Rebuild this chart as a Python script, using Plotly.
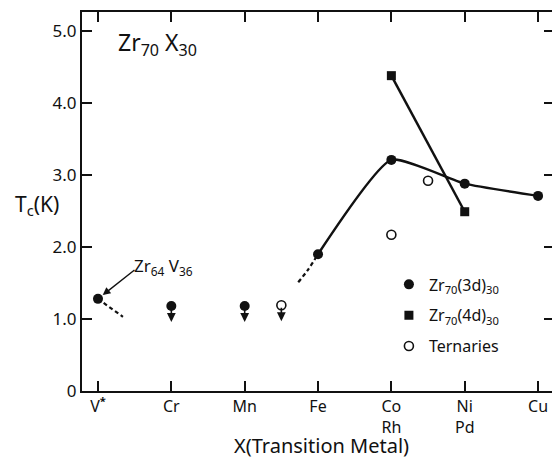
import plotly.graph_objects as go

# ---- data ----
categories = ["V<sup><b>*</b></sup>", "Cr", "Mn", "Fe", "Co<br>Rh", "Ni<br>Pd", "Cu"]
cat_pos = [0, 1, 2, 3, 4, 5, 6]

d3_x = [0, 1, 2, 3, 4, 5, 6]
d3_y = [1.28, 1.18, 1.18, 1.90, 3.21, 2.88, 2.71]
d3_upper_limit = [False, True, True, False, False, False, False]

d3_curve_x = [3, 4, 5, 6]
d3_curve_y = [1.90, 3.21, 2.88, 2.71]

d4_x = [4, 5]
d4_y = [4.38, 2.49]

tern_x = [2.5, 4.5, 4.0]
tern_y = [1.19, 2.92, 2.17]
tern_upper_limit = [True, False, False]

v_dash_x = [0, 0.34]
v_dash_y = [1.28, 1.03]
fe_dash_x = [2.73, 2.86, 3.0]
fe_dash_y = [1.51, 1.68, 1.90]

y_ticks = [0, 1, 2, 3, 4, 5]
y_ticktext = ["0", "1.0", "2.0", "3.0", "4.0", "5.0"]

FONT = "Noto Sans"
BLACK = "#111111"

fig = go.Figure()

# dashed extrapolations
fig.add_trace(go.Scatter(x=v_dash_x, y=v_dash_y, mode="lines",
                         line=dict(color=BLACK, width=2.2, dash="4px,3px"),
                         showlegend=False, hoverinfo="skip"))
fig.add_trace(go.Scatter(x=fe_dash_x, y=fe_dash_y, mode="lines",
                         line=dict(color=BLACK, width=2.2, dash="4px,3px", shape="spline"),
                         showlegend=False, hoverinfo="skip"))
# solid curves
fig.add_trace(go.Scatter(x=d3_curve_x, y=d3_curve_y, mode="lines",
                         line=dict(color=BLACK, width=2.5, shape="spline", smoothing=0.5),
                         showlegend=False, hoverinfo="skip"))
fig.add_trace(go.Scatter(x=d4_x, y=d4_y, mode="lines",
                         line=dict(color=BLACK, width=2.5),
                         showlegend=False, hoverinfo="skip"))

# markers
fig.add_trace(go.Scatter(x=d3_x, y=d3_y, mode="markers", legendgroup="a",
                         marker=dict(symbol="circle", size=10, color=BLACK),
                         name="Zr<sub>70</sub>(3d)<sub>30</sub>"))
fig.add_trace(go.Scatter(x=d4_x, y=d4_y, mode="markers", legendgroup="b",
                         marker=dict(symbol="square", size=9, color=BLACK),
                         name="Zr<sub>70</sub>(4d)<sub>30</sub>"))
fig.add_trace(go.Scatter(x=tern_x, y=tern_y, mode="markers", legendgroup="c",
                         marker=dict(symbol="circle-open", size=9, color=BLACK,
                                     line=dict(width=1.6, color=BLACK)),
                         name="Ternaries"))

# invisible trace for right-side ticks
fig.add_trace(go.Scatter(x=[None], y=[None], yaxis="y2", showlegend=False, hoverinfo="skip"))

annotations = []
# upper-limit arrows
for xs, ys, flags in [(d3_x, d3_y, d3_upper_limit), (tern_x, tern_y, tern_upper_limit)]:
    for x, y, f in zip(xs, ys, flags):
        if f:
            annotations.append(dict(x=x, y=y - 0.22, xref="x", yref="y", text="",
                                    showarrow=True, ax=0, ay=-15, arrowhead=2,
                                    arrowsize=1.1, arrowwidth=1.6, arrowcolor=BLACK))

# Zr64V36 label and arrow
annotations.append(dict(x=d3_x[0], y=d3_y[0], xref="x", yref="y", text="",
                        showarrow=True, ax=38, ay=-30, arrowhead=2, arrowsize=1.1,
                        arrowwidth=1.4, arrowcolor=BLACK, standoff=6))
annotations.append(dict(x=d3_x[0], y=d3_y[0], xref="x", yref="y",
                        text="Zr<sub>64</sub> V<sub>36</sub>", showarrow=False,
                        xshift=66, yshift=32, font=dict(size=17, color=BLACK, family=FONT)))

# title inside plot
annotations.append(dict(x=0.073, y=0.918, xref="paper", yref="paper", xanchor="left",
                        yanchor="middle", text="Zr<sub>70</sub> X<sub>30</sub>",
                        showarrow=False, font=dict(size=23, color=BLACK, family=FONT)))
# y-axis title
annotations.append(dict(x=-0.096, y=0.49, xref="paper", yref="paper", xanchor="center",
                        yanchor="middle", text="T<sub>c</sub>(K)", showarrow=False,
                        font=dict(size=21, color=BLACK, family=FONT)))
# x-axis title
annotations.append(dict(x=0.509, y=-0.181, xref="paper", yref="paper", xanchor="center",
                        yanchor="bottom", text="X(Transition Metal)", showarrow=False,
                        borderpad=0,
                        font=dict(size=20, color=BLACK, family=FONT)))

fig.update_layout(
    width=552, height=460,
    margin=dict(l=82, r=0, t=12, b=69),
    paper_bgcolor="white", plot_bgcolor="white",
    font=dict(family=FONT, color=BLACK, size=16),
    xaxis=dict(range=[-0.218, 6.19], tickmode="array", tickvals=cat_pos, ticktext=categories,
               showgrid=False, zeroline=False, showline=True, linecolor=BLACK, linewidth=2,
               mirror="ticks", ticks="inside", ticklen=10, tickwidth=2, tickcolor=BLACK,
               automargin=False,
               tickfont=dict(size=16, family=FONT, color=BLACK)),
    yaxis=dict(range=[0, 5.264], tickmode="array", tickvals=y_ticks, ticktext=y_ticktext,
               showgrid=False, zeroline=False, showline=True, linecolor=BLACK, linewidth=2,
               ticks="inside", ticklen=10, tickwidth=2, tickcolor=BLACK, automargin=False,
               tickfont=dict(size=17, family=FONT, color=BLACK)),
    yaxis2=dict(range=[0, 5.264], overlaying="y", side="right", tickmode="array",
                tickvals=y_ticks, showticklabels=False, showgrid=False, zeroline=False,
                showline=False, ticks="inside", ticklen=8, tickwidth=2, tickcolor=BLACK,
                automargin=False),
    legend=dict(x=0.653, y=0.326, xanchor="left", yanchor="top", tracegroupgap=7,
                bgcolor="rgba(0,0,0,0)", font=dict(size=16, family=FONT, color=BLACK)),
    annotations=annotations,
    showlegend=True,
)

fig.write_html("out.html")
